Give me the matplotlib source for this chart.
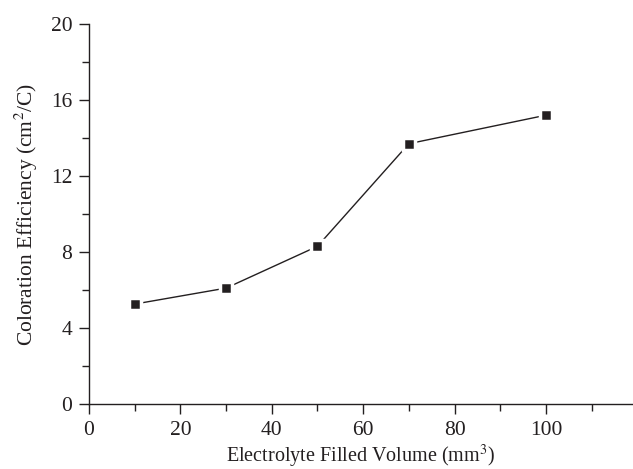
import numpy as np
import matplotlib.pyplot as plt
from matplotlib.ticker import MultipleLocator

# data
volume = [10, 30, 50, 70, 100]
efficiency = [5.26, 6.1, 8.3, 13.7, 15.2]

plt.rcParams['font.family'] = ['Liberation Serif', 'DejaVu Serif']
plt.rcParams['mathtext.fontset'] = 'stix'

fig = plt.figure(figsize=(6.33, 4.69), dpi=100)
ax = fig.add_axes([0.1406, 0.1386, 0.859, 0.8102])

ax.plot(volume, efficiency, color='#231f20', lw=1.0, marker='s', ms=8,
        mfc='#231f20', mec='white', mew=2.5)

ax.set_xlim(0, 119)
ax.set_ylim(0, 20)
ax.xaxis.set_major_locator(MultipleLocator(20))
ax.xaxis.set_minor_locator(MultipleLocator(10))
ax.yaxis.set_major_locator(MultipleLocator(4))
ax.yaxis.set_minor_locator(MultipleLocator(2))

ax.spines['top'].set_visible(False)
ax.spines['right'].set_visible(False)
for s in ['left', 'bottom']:
    ax.spines[s].set_color('#231f20')
    ax.spines[s].set_linewidth(1.0)

ax.tick_params(which='major', direction='out', length=7, width=1, labelsize=15.5, colors='#231f20')
ax.tick_params(axis='y', which='major', pad=5)
ax.tick_params(axis='x', which='major', pad=5)
ax.tick_params(which='minor', direction='out', length=5, width=1, colors='#231f20')

ax.set_xlabel('Electrolyte Filled Volume (mm$^3$)', fontsize=14.5, color='#231f20', labelpad=2.5)
ax.set_ylabel('Coloration Efficiency (cm$^2$/C)', fontsize=15.5, color='#231f20', labelpad=8)

fig.savefig('out.png', dpi=100)
